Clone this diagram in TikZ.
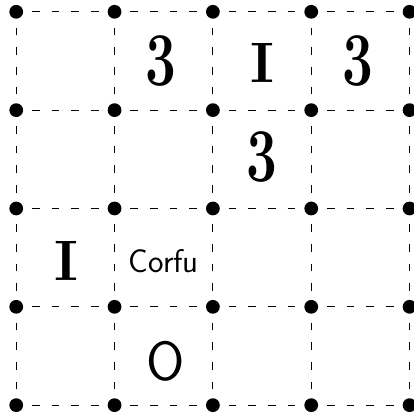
\documentclass[tikz,border=0pt]{standalone}
\usepackage{fontspec}
\usepackage{graphicx}
\usepackage{tikz}

\begin{document}
\begin{tikzpicture}[
    gridline/.style={line width=0.6pt, dash pattern=on 4.5pt off 6.88pt, dash phase=2.25pt},
    dot/.style={circle, fill=black, inner sep=0pt, minimum size=0.28cm},
    digit/.style={font=\bfseries\fontsize{44}{44}\selectfont},
    roman/.style={font=\bfseries\fontsize{33}{33}\selectfont},
    letter/.style={font=\sffamily\fontsize{32}{32}\selectfont},
    place/.style={font=\sffamily\fontsize{19}{19}\selectfont}]
    \useasboundingbox (-0.33,-0.18) rectangle (8.08,8.24);
    % grid points
    \foreach \i in {0,...,4} {
      \foreach \j in {0,...,4} {
        \node[dot] (p\i\j) at (2*\i, 2*\j) {};
      }
    }
    % dashed edges between neighbouring points
    \foreach \i in {0,...,4} {
      \foreach \j [count=\k] in {0,...,3} {
        \draw[gridline] (p\i\j.center) -- (p\i\k.center);
        \draw[gridline] (p\j\i.center) -- (p\k\i.center);
      }
    }
    % clues
    \node[digit] (a1) at (2.95, 7.0) {\scalebox{0.72}[1]{3}};
    \node[roman] (a2) at (5.0, 6.95) {I};
    \node[digit] (a3) at (6.95, 7.0) {\scalebox{0.72}[1]{3}};
    \node[digit] (b1) at (5.0, 5.05) {\scalebox{0.72}[1]{3}};
    \node[roman] (c1) at (1.02, 2.93) {I};
    \node[place] (c2) at (3.0, 2.92) {Corfu};
    \node[letter] (d1) at (3.03, 0.9) {O};
  \end{tikzpicture}
\end{document}
